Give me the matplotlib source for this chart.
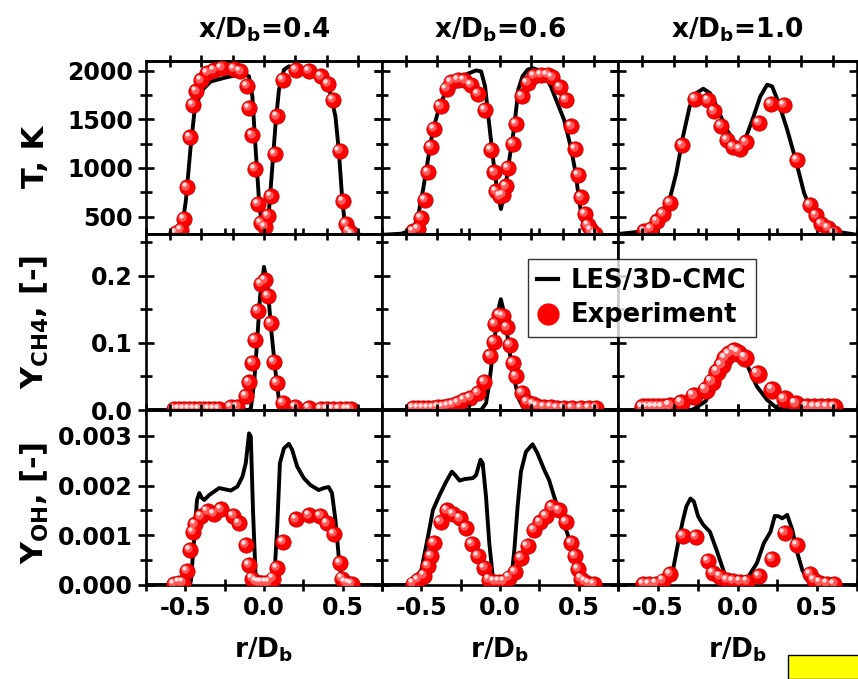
import matplotlib
matplotlib.use('Agg')
import matplotlib.pyplot as plt
from matplotlib.lines import Line2D
from matplotlib.patches import Rectangle
from matplotlib.ticker import FixedLocator, NullLocator
from matplotlib.transforms import offset_copy

# ---- data ----
# row 1: temperature, K
t04_les_r = [-0.6, -0.54, -0.527, -0.496, -0.468, -0.443, -0.401, -0.338, -0.232, -0.127, -0.095, -0.074,
             -0.053, -0.032, -0.011, 0.0, 0.032, 0.053, 0.074, 0.095, 0.127, 0.158, 0.274, 0.359, 0.422,
             0.454, 0.475, 0.496, 0.517, 0.54, 0.6]
t04_les = [150, 230, 312, 672, 1187, 1564, 1787, 1890, 1935, 1969, 1942, 1736, 1187, 673, 360, 310, 570,
           1016, 1461, 1804, 2010, 2045, 2010, 1907, 1770, 1530, 1187, 707, 364, 230, 150]
t04_exp_r = [-0.56, -0.53, -0.51, -0.49, -0.47, -0.45, -0.43, -0.40, -0.36, -0.32, -0.27, -0.19, -0.15,
             -0.11, -0.095, -0.074, -0.057, -0.038, -0.017, 0.004, 0.025, 0.046, 0.068, 0.084, 0.12, 0.205,
             0.285, 0.36, 0.405, 0.44, 0.48, 0.50, 0.52, 0.54, 0.56]
t04_exp = [330, 364, 474, 800, 1314, 1650, 1787, 1900, 1976, 2003, 2027, 2017, 1993, 1846, 1616, 1335, 988,
           631, 432, 391, 508, 707, 1146, 1530, 1907, 2010, 1997, 1942, 1863, 1702, 1177, 655, 426, 347, 323]

t06_les_r = [-0.75, -0.627, -0.553, -0.521, -0.489, -0.458, -0.426, -0.384, -0.331, -0.268, -0.205, -0.152,
             -0.12, -0.095, -0.074, -0.046, -0.019, 0.006, 0.032, 0.059, 0.091, 0.116, 0.143, 0.175, 0.207,
             0.238, 0.281, 0.323, 0.365, 0.407, 0.449, 0.481, 0.502, 0.523, 0.555, 0.597, 0.65]
t06_les = [312, 323, 364, 501, 776, 1084, 1393, 1633, 1839, 1925, 1969, 2003, 1993, 1839, 1530, 1118, 776,
           577, 776, 1084, 1427, 1804, 1942, 2010, 2027, 2010, 1959, 1839, 1667, 1496, 1221, 947, 673, 467,
           347, 295, 250]
t06_exp_r = [-0.553, -0.521, -0.504, -0.479, -0.458, -0.441, -0.42, -0.378, -0.34, -0.31, -0.268, -0.226,
             -0.184, -0.141, -0.095, -0.057, -0.036, -0.025, 0.002, 0.02, 0.038, 0.049, 0.08, 0.101, 0.139,
             0.175, 0.217, 0.259, 0.302, 0.333, 0.382, 0.42, 0.454, 0.479, 0.498, 0.513, 0.538, 0.559, 0.58,
             0.601]
t06_exp = [347, 374, 484, 673, 954, 1215, 1400, 1633, 1815, 1883, 1907, 1900, 1852, 1760, 1599, 1187, 954,
           758, 707, 720, 810, 998, 1245, 1455, 1736, 1873, 1949, 1959, 1955, 1931, 1828, 1702, 1427, 1194,
           930, 697, 525, 408, 357, 323]

t10_les_r = [-0.75, -0.595, -0.511, -0.437, -0.384, -0.342, -0.3, -0.257, -0.215, -0.173, -0.131, -0.078,
             -0.025, 0.017, 0.059, 0.101, 0.143, 0.186, 0.217, 0.259, 0.312, 0.365, 0.418, 0.46, 0.523,
             0.608, 0.75]
t10_les = [320, 347, 432, 604, 947, 1324, 1633, 1770, 1815, 1770, 1633, 1427, 1273, 1239, 1341, 1530, 1736,
           1856, 1839, 1667, 1393, 1084, 741, 570, 432, 347, 312]
t10_exp_r = [-0.584, -0.542, -0.504, -0.468, -0.426, -0.346, -0.268, -0.184, -0.148, -0.105, -0.068, -0.03,
             0.013, 0.055, 0.133, 0.211, 0.291, 0.371, 0.456, 0.492, 0.527, 0.57, 0.608]
t10_exp = [347, 371, 450, 529, 638, 1232, 1708, 1695, 1582, 1434, 1290, 1215, 1194, 1263, 1461, 1657, 1650,
           1084, 621, 511, 426, 381, 330]

# row 2: CH4 mass fraction
ch4_04_les_r = [-0.75, -0.1, -0.084, -0.063, -0.046, -0.025, 0.0, 0.021, 0.046, 0.074, 0.095, 0.105, 0.12, 0.75]
ch4_04_les = [0, 0, 0.002, 0.04, 0.094, 0.169, 0.213, 0.189, 0.119, 0.055, 0.015, 0.004, 0, 0]
ch4_04_exp_r = [-0.57, -0.538, -0.506, -0.475, -0.443, -0.411, -0.38, -0.348, -0.316, -0.285, -0.211, -0.169,
                -0.116, -0.095, -0.074, -0.057, -0.038, -0.017, 0.004, 0.027, 0.046, 0.065, 0.084, 0.122,
                0.2, 0.285, 0.36, 0.40, 0.44, 0.48, 0.52, 0.55]
ch4_04_exp = [0.002, 0.002, 0.002, 0.002, 0.002, 0.002, 0.002, 0.002, 0.002, 0.002, 0.004, 0.005,
              0.021, 0.041, 0.07, 0.104, 0.148, 0.188, 0.193, 0.17, 0.129, 0.072, 0.04, 0.011,
              0.004, 0.003, 0.002, 0.002, 0.002, 0.002, 0.002, 0.002]

ch4_06_les_r = [-0.75, -0.12, -0.089, -0.068, -0.036, -0.011, 0.005, 0.032, 0.059, 0.091, 0.122, 0.154, 0.75]
ch4_06_les = [0, 0, 0.01, 0.04, 0.104, 0.149, 0.165, 0.139, 0.089, 0.045, 0.015, 0.001, 0]
ch4_06_exp_r = [-0.553, -0.521, -0.489, -0.458, -0.426, -0.395, -0.363, -0.331, -0.3, -0.264, -0.226,
                -0.188, -0.141, -0.099, -0.061, -0.04, -0.032, -0.004, 0.021, 0.042, 0.063, 0.084, 0.101,
                0.139, 0.169, 0.207, 0.238, 0.281, 0.323, 0.365, 0.407, 0.46, 0.513, 0.565, 0.608]
ch4_06_exp = [0.0025, 0.0025, 0.0025, 0.0025, 0.0035, 0.004, 0.0045, 0.006, 0.0075, 0.01, 0.015, 0.018,
              0.025, 0.042, 0.081, 0.101, 0.128, 0.142, 0.14, 0.123, 0.097, 0.07, 0.05, 0.025, 0.012,
              0.0085, 0.0065, 0.005, 0.004, 0.003, 0.0025, 0.0025, 0.0025, 0.0025, 0.0025]

ch4_10_les_r = [-0.75, -0.3, -0.278, -0.2, -0.15, -0.1, -0.05, 0.0, 0.04, 0.07, 0.122, 0.186, 0.249, 0.31, 0.75]
ch4_10_les = [0, 0, 0.001, 0.013, 0.035, 0.058, 0.077, 0.086, 0.08, 0.062, 0.035, 0.015, 0.0025, 0, 0]
ch4_10_exp_r = [-0.595, -0.563, -0.532, -0.5, -0.468, -0.426, -0.352, -0.274, -0.198, -0.162, -0.127,
                -0.099, -0.078, -0.051, -0.021, 0.006, 0.049, 0.127, 0.217, 0.295, 0.365, 0.439, 0.481,
                0.523, 0.565, 0.608]
ch4_10_exp = [0.004, 0.004, 0.004, 0.004, 0.004, 0.006, 0.011, 0.021, 0.03, 0.042, 0.057, 0.067, 0.077,
              0.083, 0.088, 0.085, 0.078, 0.054, 0.03, 0.016, 0.009, 0.005, 0.004, 0.004, 0.004, 0.004]

# row 3: OH mass fraction
oh_04_les_r = [-0.75, -0.47, -0.464, -0.443, -0.426, -0.411, -0.397, -0.38, -0.348, -0.285, -0.211, -0.169,
               -0.137, -0.116, -0.095, -0.084, -0.07, -0.053, -0.042, 0.063, 0.084, 0.101, 0.127, 0.158,
               0.179, 0.211, 0.253, 0.295, 0.348, 0.38, 0.411, 0.432, 0.454, 0.475, 0.496, 0.51, 0.75]
oh_04_les = [0, 0, 0.0001, 0.00097, 0.00171, 0.00185, 0.00176, 0.00171, 0.00181, 0.00195, 0.0019, 0.00198,
             0.00218, 0.00245, 0.00305, 0.00299, 0.00151, 0.00013, 0.00002, 0.00002, 0.00117, 0.00245,
             0.00275, 0.00284, 0.00272, 0.00238, 0.00215, 0.00201, 0.00191, 0.00195, 0.00197, 0.00185,
             0.00131, 0.00057, 0.00003, 0, 0]
oh_04_exp_r = [-0.57, -0.538, -0.515, -0.492, -0.47, -0.454, -0.437, -0.401, -0.359, -0.316, -0.274, -0.194,
               -0.158, -0.114, -0.095, -0.074, -0.053, -0.032, -0.011, 0.011, 0.032, 0.059, 0.084, 0.122,
               0.205, 0.285, 0.359, 0.401, 0.443, 0.481, 0.496, 0.517, 0.538, 0.56]
oh_04_exp = [0.00002, 0.00005, 0.00005, 0.00028, 0.0007, 0.00107, 0.00122, 0.00138, 0.00148, 0.00143,
             0.00152, 0.00139, 0.00124, 0.00081, 0.0004, 0.00013, 0.00007, 0.00005, 0.00005, 0.00005,
             0.00005, 0.00013, 0.00035, 0.00087, 0.00132, 0.0014, 0.00139, 0.00124, 0.00103, 0.00044,
             0.00013, 0.00005, 0.00003, 0.00002]

oh_06_les_r = [-0.75, -0.6, -0.57, -0.5, -0.458, -0.426, -0.384, -0.342, -0.306, -0.285, -0.257, -0.226,
               -0.173, -0.152, -0.124, -0.11, -0.089, -0.068, -0.046, -0.036, 0.07, 0.091, 0.112, 0.133,
               0.165, 0.207, 0.238, 0.281, 0.312, 0.344, 0.386, 0.428, 0.46, 0.492, 0.513, 0.544, 0.6, 0.75]
oh_06_les = [0, 0, 0.00002, 0.0003, 0.00097, 0.00151, 0.00181, 0.00208, 0.00228, 0.00221, 0.0021, 0.00213,
             0.00215, 0.00221, 0.00252, 0.00245, 0.00178, 0.00084, 0.00017, 0.00007, 0.00007, 0.0007,
             0.00158, 0.00228, 0.00268, 0.00283, 0.00265, 0.00232, 0.00211, 0.00178, 0.00138, 0.00104,
             0.0007, 0.0003, 0.0001, 0.00002, 0, 0]
oh_06_exp_r = [-0.553, -0.521, -0.483, -0.458, -0.441, -0.42, -0.378, -0.338, -0.3, -0.257, -0.215, -0.179,
               -0.141, -0.099, -0.068, -0.036, -0.004, 0.027, 0.059, 0.095, 0.133, 0.175, 0.217, 0.255,
               0.291, 0.329, 0.376, 0.418, 0.454, 0.477, 0.496, 0.513, 0.538, 0.565, 0.597]
oh_06_exp = [0.00003, 0.0001, 0.00019, 0.00038, 0.00058, 0.00085, 0.00127, 0.0015, 0.00143, 0.00134,
             0.00114, 0.00083, 0.00058, 0.00034, 0.00011, 0.00007, 0.00007, 0.00007, 0.00015, 0.00027,
             0.00054, 0.00079, 0.00111, 0.00126, 0.00139, 0.00156, 0.0015, 0.00127, 0.00084, 0.00059,
             0.00032, 0.00013, 0.00007, 0.00003, 0.00002]

oh_10_les_r = [-0.75, -0.5, -0.447, -0.405, -0.373, -0.342, -0.321, -0.295, -0.274, -0.247, -0.215, -0.173,
               -0.131, -0.089, -0.057, 0.049, 0.08, 0.122, 0.165, 0.207, 0.234, 0.259, 0.281, 0.312, 0.344,
               0.376, 0.407, 0.439, 0.481, 0.75]
oh_10_les = [0, 0, 0.0001, 0.0003, 0.00084, 0.00131, 0.00158, 0.00174, 0.00168, 0.00138, 0.00121, 0.00107,
             0.0007, 0.0003, 0.00003, 0.00003, 0.00023, 0.00044, 0.00084, 0.00107, 0.00139, 0.00138,
             0.00134, 0.00141, 0.00111, 0.00064, 0.0003, 0.0001, 0, 0]
oh_10_exp_r = [-0.591, -0.553, -0.511, -0.468, -0.422, -0.342, -0.262, -0.184, -0.152, -0.11, -0.068, -0.03,
               0.013, 0.059, 0.137, 0.217, 0.295, 0.371, 0.456, 0.481, 0.519, 0.561, 0.608]
oh_10_exp = [0.00002, 0.00002, 0.00003, 0.00009, 0.00022, 0.00099, 0.00096, 0.00049, 0.00025, 0.00017,
             0.0001, 0.00008, 0.00007, 0.00007, 0.00018, 0.00052, 0.00104, 0.00081, 0.00022, 0.0001,
             0.00005, 0.00003, 0.00002]

col_titles = ['x/D$_\\mathbf{b}$=0.4', 'x/D$_\\mathbf{b}$=0.6', 'x/D$_\\mathbf{b}$=1.0']
row_labels = ['T, K', 'Y$_\\mathbf{CH4}$, [-]', 'Y$_\\mathbf{OH}$, [-]']

panels = [
    [(t04_les_r, t04_les, t04_exp_r, t04_exp), (t06_les_r, t06_les, t06_exp_r, t06_exp),
     (t10_les_r, t10_les, t10_exp_r, t10_exp)],
    [(ch4_04_les_r, ch4_04_les, ch4_04_exp_r, ch4_04_exp), (ch4_06_les_r, ch4_06_les, ch4_06_exp_r, ch4_06_exp),
     (ch4_10_les_r, ch4_10_les, ch4_10_exp_r, ch4_10_exp)],
    [(oh_04_les_r, oh_04_les, oh_04_exp_r, oh_04_exp), (oh_06_les_r, oh_06_les, oh_06_exp_r, oh_06_exp),
     (oh_10_les_r, oh_10_les, oh_10_exp_r, oh_10_exp)],
]

# y axis settings per row: limits, major ticks, minor ticks, label format
row_ylim = [(320, 2100), (0, 0.262), (0, 0.00352)]
row_major = [[500, 1000, 1500, 2000], [0.0, 0.1, 0.2], [0, 0.001, 0.002, 0.003]]
row_minor = [[750, 1250, 1750], [0.05, 0.15, 0.25], [0.0005, 0.0015, 0.0025]]
row_fmt = ['{:.0f}', '{:.1f}', '{:.3f}']

plt.rcParams['font.family'] = ['DejaVu Sans']
plt.rcParams['font.weight'] = 'bold'
plt.rcParams['mathtext.fontset'] = 'dejavusans'
plt.rcParams['mathtext.default'] = 'bf'

W, H = 858, 679
fig = plt.figure(figsize=(W / 100, H / 100), dpi=100)

col_px = [146, 382, 618, 857]
row_px = [61, 234, 410, 585]


def spheres(ax, x, y, ms):
    # red balls with a light spot, like the glossy markers of the original
    ax.plot(x, y, 'o', ms=ms, color='#ff0000', mec='#c80000', mew=0.6, zorder=3)
    t1 = offset_copy(ax.transData, fig=fig, x=-ms * 0.12, y=ms * 0.12, units='points')
    ax.plot(x, y, 'o', ms=ms * 0.55, color='#ff5a5a', mew=0, transform=t1, zorder=4)
    t2 = offset_copy(ax.transData, fig=fig, x=-ms * 0.2, y=ms * 0.2, units='points')
    ax.plot(x, y, 'o', ms=ms * 0.28, color='#ffe0e0', mew=0, transform=t2, zorder=5)


for i in range(3):
    for j in range(3):
        x0 = col_px[j] / W
        w = (col_px[j + 1] - col_px[j]) / W
        y0 = 1 - row_px[i + 1] / H
        h = (row_px[i + 1] - row_px[i]) / H
        ax = fig.add_axes([x0, y0, w, h])
        les_r, les_v, exp_r, exp_v = panels[i][j]
        ax.plot(les_r, les_v, color='black', lw=2.8, zorder=2)
        spheres(ax, exp_r, exp_v, 12.5 if (i == 1 and j == 2) else 11)

        ax.set_xlim(-0.75, 0.75)
        ax.set_ylim(*row_ylim[i])
        for s in ax.spines.values():
            s.set_linewidth(1.9)

        ax.xaxis.set_major_locator(FixedLocator([-0.5, 0.0, 0.5]))
        ax.xaxis.set_minor_locator(FixedLocator([-0.75, -0.25, 0.25, 0.75]))
        ax.yaxis.set_major_locator(FixedLocator(row_major[i]))
        ax.yaxis.set_minor_locator(FixedLocator(row_minor[i]))
        ax.tick_params(which='both', direction='inout', width=1.9, top=False, bottom=True,
                       left=True, right=True, labelsize=17)
        ax.tick_params(axis='x', which='both', length=9)
        ax.tick_params(axis='y', which='major', length=12)
        ax.tick_params(axis='y', which='minor', length=8)
        ax.tick_params(labelbottom=(i == 2), labelleft=(j == 0))
        ax.set_xticklabels(['-0.5', '0.0', '0.5'])
        ax.set_yticklabels([row_fmt[i].format(v) for v in row_major[i]])

        # top axis has its own ticks every 0.2
        sec = ax.secondary_xaxis('top')
        sec.xaxis.set_major_locator(FixedLocator([-0.6, -0.4, -0.2, 0.0, 0.2, 0.4, 0.6]))
        sec.xaxis.set_minor_locator(NullLocator())
        sec.tick_params(direction='inout', length=9, width=1.9, labeltop=False)
        sec.spines['top'].set_linewidth(1.9)

for j in range(3):
    xc = (col_px[j] + col_px[j + 1]) / 2 / W
    fig.text(xc, 1 - 30 / H, col_titles[j], ha='center', va='center', fontsize=19, fontweight='bold')
    fig.text(xc, 1 - 650 / H, 'r/D$_\\mathbf{b}$', ha='center', va='center', fontsize=19, fontweight='bold')

label_y = [157, 322, 503]
for i in range(3):
    fig.text(35 / W, 1 - label_y[i] / H, row_labels[i], rotation=90, ha='center', va='center',
             fontsize=22, fontweight='bold')

handles = [Line2D([], [], color='black', lw=3),
           Line2D([], [], marker='o', ls='', color='#ff0000', ms=15)]
leg = fig.legend(handles, ['LES/3D-CMC', 'Experiment'], loc='center',
                 bbox_to_anchor=(642 / W, 1 - 298 / H), frameon=True, fancybox=False,
                 edgecolor='black', handlelength=0.8, handletextpad=0.5, borderpad=0.35, labelspacing=0.35,
                 prop={'weight': 'bold', 'size': 18.5})
leg.get_frame().set_linewidth(1.0)

fig.patches.append(Rectangle((788 / W, 0), 80 / W, 24 / H, transform=fig.transFigure,
                             facecolor='#ffff00', edgecolor='black', lw=1.0, zorder=10))

fig.savefig('out.png', dpi=100)
